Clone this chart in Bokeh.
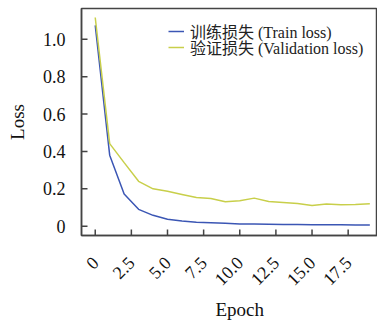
import math
from bokeh.plotting import figure
from bokeh.models import (Range1d, FixedTicker, Legend, LegendItem, Title)
from bokeh.embed import file_html
from bokeh.resources import INLINE

epochs = list(range(20))
train_loss = [1.075, 0.38, 0.172, 0.09, 0.058, 0.037, 0.028, 0.021, 0.018, 0.015,
              0.012, 0.011, 0.010, 0.009, 0.009, 0.008, 0.007, 0.007, 0.006, 0.006]
val_loss = [1.117, 0.442, 0.34, 0.24, 0.20, 0.187, 0.17, 0.153, 0.148, 0.131,
            0.136, 0.15, 0.132, 0.127, 0.121, 0.11, 0.119, 0.114, 0.116, 0.12]
x_ticks = [0, 2.5, 5, 7.5, 10, 12.5, 15, 17.5]
x_tick_labels = ["0", "2.5", "5.0", "7.5", "10.0", "12.5", "15.0", "17.5"]
y_ticks = [0, 0.2, 0.4, 0.6, 0.8, 1.0]
y_tick_labels = ["0", "0.2", "0.4", "0.6", "0.8", "1.0"]
train_name = "训练损失 (Train loss)"
val_name = "验证损失 (Validation loss)"

SERIF = "'Liberation Serif', 'Times New Roman', serif"
LEGEND_FONT = "'Liberation Serif', 'Noto Sans CJK SC', serif"
AX = "#444444"

p = figure(width=377, height=323, output_backend="svg", toolbar_location=None,
           x_range=Range1d(-0.95, 19.53), y_range=Range1d(-0.05, 1.165),
           min_border_left=81, min_border_right=0, min_border_top=8,
           min_border_bottom=88)
p.outline_line_color = AX
p.outline_line_width = 1.5
p.xgrid.visible = False
p.ygrid.visible = False

l1 = p.line(epochs, train_loss, line_color="#3b56b4", line_width=1.5)
l2 = p.line(epochs, val_loss, line_color="#c8cf4a", line_width=1.5)

# inward tick marks (5 px) at the tick positions
p.ray(x=x_ticks, y=[p.y_range.start] * len(x_ticks), length=6, length_units="screen",
      angle=math.pi / 2, line_color=AX, line_width=1.5)
p.ray(x=[p.x_range.start] * len(y_ticks), y=y_ticks, length=6, length_units="screen",
      angle=0, line_color=AX, line_width=1.5)

bx = p.xaxis[0]
ly = p.yaxis[0]
for ax in (bx, ly):
    ax.axis_line_color = AX
    ax.axis_line_width = 1.5
    ax.major_tick_line_color = None
    ax.major_tick_in = 0
    ax.major_tick_out = 1
    ax.minor_tick_line_color = None
    ax.major_label_text_font = SERIF
    ax.major_label_text_font_size = "18px"
    ax.major_label_text_color = "#111111"
    ax.axis_label_text_font = SERIF
    ax.axis_label_text_font_size = "19px"
    ax.axis_label_text_font_style = "normal"
    ax.axis_label_text_color = "#111111"

bx.ticker = FixedTicker(ticks=x_ticks)
bx.major_label_overrides = dict(zip(x_ticks, x_tick_labels))
bx.major_label_orientation = math.pi / 4
bx.major_label_standoff = 23

ly.ticker = FixedTicker(ticks=y_ticks)
ly.major_label_overrides = dict(zip(y_ticks, y_tick_labels))
ly.major_label_standoff = 15
ly.axis_label = "Loss"
ly.axis_label_standoff = 12

p.add_layout(Title(text="Epoch", align="left", offset=134, standoff=7,
                   text_font=SERIF, text_font_size="19px", text_font_style="normal",
                   text_color="#111111"), "below")

common = dict(border_line_color=None, background_fill_alpha=0,
              padding=0, margin=0, spacing=0, glyph_width=16, glyph_height=16,
              label_height=16, label_standoff=6,
              label_text_font=LEGEND_FONT, label_text_font_size="16px",
              label_text_color="#222222")
leg1 = Legend(items=[LegendItem(label=train_name, renderers=[l1])],
              location=(87, 192), **common)
leg2 = Legend(items=[LegendItem(label=val_name, renderers=[l2])],
              location=(87, 176), **common)
p.add_layout(leg1)
p.add_layout(leg2)

open("out.html", "w").write(file_html(p, INLINE))
